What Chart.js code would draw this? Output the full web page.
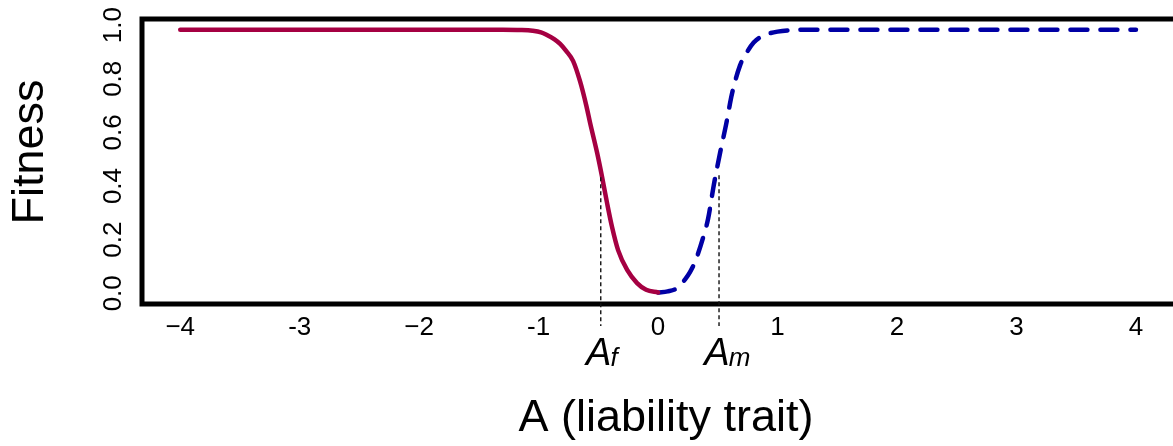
<!DOCTYPE html>
<html>
<head>
<meta charset="utf-8">
<script src="https://cdn.jsdelivr.net/npm/chart.js@4.4.1/dist/chart.umd.min.js"></script>
<style>
  html, body { margin: 0; padding: 0; background: #fff; }
  #wrap { width: 1173px; height: 446px; position: relative; }
</style>
</head>
<body>
<div id="wrap"><canvas id="fitnessChart"></canvas></div>
<script>
// Female fitness curve (solid) and male fitness curve (dashed)
const femaleX = [-4.0, -1.3, -1.15, -1.05, -0.98, -0.93, -0.87, -0.82, -0.77, -0.711, -0.653, -0.6, -0.569, -0.51, -0.469, -0.427, -0.385, -0.335, -0.259, -0.176, -0.1, 0.0];
const femaleY = [0.983, 0.983, 0.982, 0.979, 0.973, 0.963, 0.948, 0.930, 0.904, 0.866, 0.790, 0.698, 0.635, 0.523, 0.434, 0.336, 0.246, 0.161, 0.087, 0.038, 0.013, 0.003];
const maleX = [0.0, 0.08, 0.159, 0.226, 0.268, 0.31, 0.377, 0.418, 0.468, 0.519, 0.569, 0.619, 0.686, 0.745, 0.8, 0.86, 0.93, 1.0, 1.1, 1.3, 4.0];
const maleY = [0.003, 0.007, 0.019, 0.052, 0.080, 0.118, 0.208, 0.277, 0.408, 0.524, 0.629, 0.745, 0.850, 0.900, 0.935, 0.956, 0.969, 0.976, 0.981, 0.983, 0.983];

// Thresholds A_f and A_m, with the fitness level where the marker starts
const markerX = [-0.48, 0.51];
const markerY = [0.433, 0.44];
const markerName = ["f", "m"];

const xTickValues = [-4, -3, -2, -1, 0, 1, 2, 3, 4];
const xTickLabels = ["\u22124", "-3", "\u22122", "-1", "0", "1", "2", "3", "4"];
const yTickValues = [0, 0.2, 0.4, 0.6, 0.8, 1.0];
const yTickLabels = ["0.0", "0.2", "0.4", "0.6", "0.8", "1.0"];

const FONT = "'Liberation Sans', Arial, Helvetica, sans-serif";
Chart.defaults.color = "#000";
Chart.defaults.font.family = FONT;

const toPoints = (xs, ys) => xs.map((x, i) => ({ x: x, y: ys[i] }));

// box, threshold markers and axis titles
const decorations = {
  id: "decorations",
  afterDraw(chart) {
    const { ctx, chartArea: a, scales: { x, y } } = chart;
    ctx.save();

    // R-style box (right side falls off the canvas)
    ctx.strokeStyle = "#000";
    ctx.lineWidth = 5;
    ctx.lineJoin = "miter";
    ctx.beginPath();
    ctx.moveTo(chart.width + 10, a.top);
    ctx.lineTo(a.left, a.top);
    ctx.lineTo(a.left, a.bottom);
    ctx.lineTo(chart.width + 10, a.bottom);
    ctx.stroke();

    // dotted markers
    ctx.lineWidth = 1.4;
    ctx.setLineDash([4, 3]);
    ctx.strokeStyle = "#111";
    markerX.forEach((mx, i) => {
      const px = x.getPixelForValue(mx);
      ctx.beginPath();
      ctx.moveTo(px, y.getPixelForValue(markerY[i]));
      ctx.lineTo(px, a.bottom + 22);
      ctx.stroke();
    });
    ctx.setLineDash([]);

    // A_f, A_m labels
    ctx.fillStyle = "#000";
    ctx.textBaseline = "alphabetic";
    ctx.textAlign = "left";
    markerX.forEach((mx, i) => {
      const px = x.getPixelForValue(mx);
      ctx.font = "italic 38px " + FONT;
      const w = ctx.measureText("A").width;
      const left = px - w / 2 - 2;
      ctx.fillText("A", left, 365);
      ctx.font = "italic 26px " + FONT;
      ctx.fillText(markerName[i], left + w - 1, 366);
    });

    // axis titles
    ctx.font = "45px " + FONT;
    ctx.textAlign = "center";
    ctx.fillText("A (liability trait)", 666, 431);
    ctx.save();
    ctx.translate(31, 152);
    ctx.rotate(-Math.PI / 2);
    ctx.textBaseline = "middle";
    ctx.fillText("Fitness", 0, 0);
    ctx.restore();

    ctx.restore();
  },
};

const ctx = document.getElementById("fitnessChart").getContext("2d");
new Chart(ctx, {
  type: "line",
  data: {
    datasets: [
      {
        label: "female",
        data: toPoints(femaleX, femaleY),
        borderColor: "#A50042",
        borderWidth: 4.5,
        borderCapStyle: "round",
        cubicInterpolationMode: "monotone",
        pointRadius: 0,
        fill: false,
      },
      {
        label: "male",
        data: toPoints(maleX, maleY),
        borderColor: "#0000A5",
        borderWidth: 4.5,
        borderDash: [17, 13],
        borderCapStyle: "round",
        cubicInterpolationMode: "monotone",
        pointRadius: 0,
        fill: false,
      },
    ],
  },
  options: {
    responsive: true,
    maintainAspectRatio: false,
    animation: false,
    layout: { padding: { top: 19, right: 0, bottom: 0, left: 0 } },
    plugins: {
      legend: { display: false },
      tooltip: { enabled: false },
    },
    scales: {
      x: {
        type: "linear",
        min: -4.32,
        max: 4.31,
        grid: { display: false, drawTicks: false },
        border: { display: false },
        afterBuildTicks: (s) => { s.ticks = xTickValues.map((v) => ({ value: v })); },
        afterFit: (s) => { s.height = 142; s.paddingLeft = 0; s.paddingRight = 0; },
        ticks: {
          padding: 8,
          maxRotation: 0,
          autoSkip: false,
          font: { size: 26 },
          callback: (v, i) => xTickLabels[i],
        },
      },
      y: {
        type: "linear",
        min: -0.04,
        max: 1.023,
        grid: { display: false, drawTicks: false },
        border: { display: false },
        afterBuildTicks: (s) => { s.ticks = yTickValues.map((v) => ({ value: v })); },
        afterFit: (s) => { s.width = 142; s.paddingTop = 0; s.paddingBottom = 0; },
        ticks: {
          padding: 10,
          minRotation: 90,
          maxRotation: 90,
          crossAlign: "center",
          autoSkip: false,
          font: { size: 26 },
          callback: (v, i) => yTickLabels[i],
        },
      },
    },
  },
  plugins: [decorations],
});
</script>
</body>
</html>
